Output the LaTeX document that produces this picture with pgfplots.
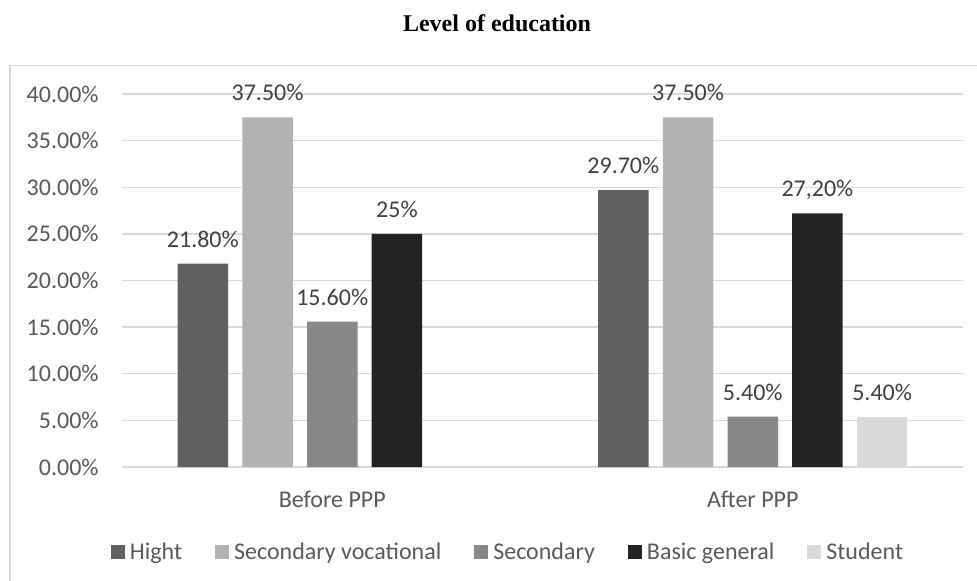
\documentclass[border=0pt]{standalone}
\usepackage{fontspec}
\setmainfont{Carlito}
\newfontfamily\titlefont{Liberation Serif}
\usepackage{pgfplots}
\pgfplotsset{compat=1.18}
\definecolor{cH}{HTML}{606060}
\definecolor{cSV}{HTML}{B2B2B2}
\definecolor{cS}{HTML}{888888}
\definecolor{cBG}{HTML}{232323}
\definecolor{cSt}{HTML}{D9D9D9}
\definecolor{axtext}{HTML}{595959}
\definecolor{lbltext}{HTML}{404040}
\definecolor{gridc}{HTML}{D9D9D9}
\pgfplotsset{sq/.style={legend image code/.code={\fill[##1, draw=none] (0pt,-2.9pt) rectangle (7pt,4.1pt); \path (9.5pt,0pt);}}}
\begin{document}
\fontsize{12pt}{14pt}\selectfont
\begin{tikzpicture}
\path[use as bounding box] (0,0) rectangle (488.5pt,-290.5pt);
\draw[gridc, line width=0.6pt] (5pt,-290.5pt) -- (5pt,-32.75pt) -- (488.5pt,-32.75pt);
\node[font=\titlefont\bfseries\fontsize{12pt}{14pt}\selectfont, anchor=base] at (248.5pt,-16pt) {Level of education};
\begin{axis}[
  at={(61pt,-233.5pt)}, anchor=south west,
  width=420.5pt, height=186.5pt, scale only axis,
  ybar=7.1pt, bar width=25.25pt,
  xmin=-0.5, xmax=1.5, ymin=0, ymax=40,
  xtick={0,1}, xticklabels={Before PPP, After PPP},
  ytick={0,5,...,40},
  yticklabel={\pgfmathprintnumber[fixed,fixed zerofill,precision=2]{\tick}\%},
  /pgf/number format/assume math mode=true,
  ymajorgrids, grid style={gridc, line width=0.65pt},
  axis line style={draw=none},
  major tick length=0pt,
  tick style={draw=none},
  yticklabel style={anchor=east, inner sep=0pt, xshift=-11.5pt, text=axtext},
  xticklabel style={anchor=base, inner sep=0pt, yshift=-20pt, text=axtext},
  nodes near coords, point meta=explicit symbolic,
  every node near coord/.append style={anchor=base, inner sep=0pt, yshift=8.25pt, text=lbltext},
  legend columns=5,
  legend style={draw=none, fill=none, at={(0.4578,-0.23)}, anchor=center, inner sep=0pt, /tikz/every even column/.append style={column sep=16.5pt}, nodes={inner sep=0pt, text=axtext}},
]
\addplot[fill=cH, draw=none, sq] coordinates {(0,21.8) [21.80\%] (1,29.7) [29.70\%]};
\addplot[fill=cSV, draw=none, sq] coordinates {(0,37.5) [37.50\%] (1,37.5) [37.50\%]};
\addplot[fill=cS, draw=none, sq] coordinates {(0,15.6) [15.60\%] (1,5.4) [5.40\%]};
\addplot[fill=cBG, draw=none, sq] coordinates {(0,25) [25\%] (1,27.2) [27,20\%]};
\addplot[fill=cSt, draw=none, sq] coordinates {(1,5.4) [5.40\%]};
\legend{Hight, Secondary vocational, Secondary, Basic general, Student}
\end{axis}
\end{tikzpicture}
\end{document}
